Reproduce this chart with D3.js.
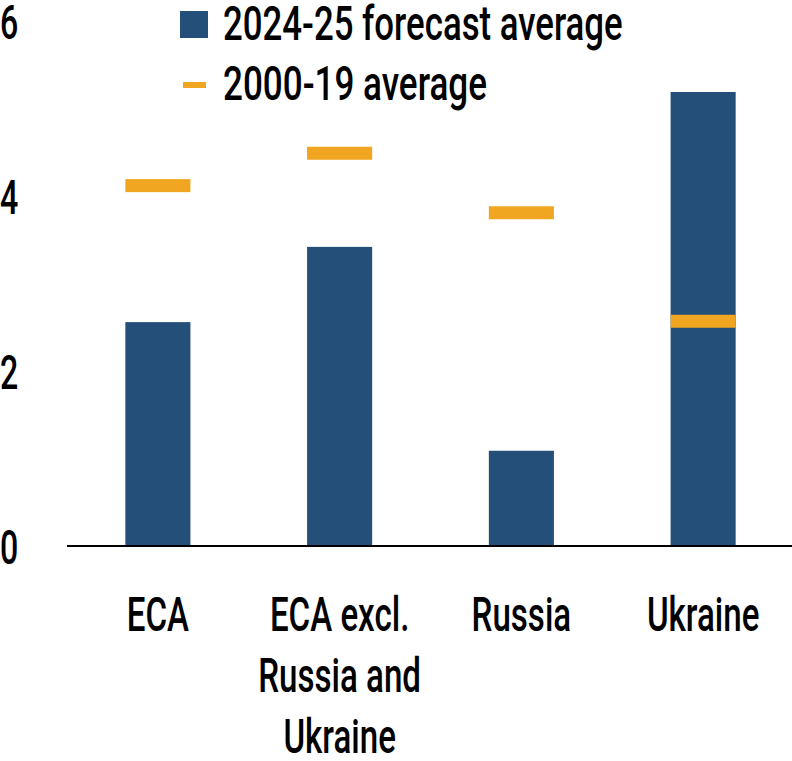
<!DOCTYPE html>
<html lang="en">
<head>
    <meta charset="UTF-8">
    <title></title>
    <script src="https://cdn.jsdelivr.net/npm/d3@7/dist/d3.min.js"></script>
    <style>
        body { margin: 0; background: #fff; }
        text { font-family: Roboto, sans-serif; font-weight: 500; fill: #000; }
    </style>
</head>
<body>
    <div id='root'></div>
    <script>
        // values
        const categories = ['ECA', 'ECA excl. Russia and Ukraine', 'Russia', 'Ukraine'];
        const categoryLines = [['ECA'], ['ECA excl.', 'Russia and', 'Ukraine'], ['Russia'], ['Ukraine']];
        const forecast = [2.57, 3.43, 1.10, 5.20];   // 2024-25 forecast average
        const hist = [4.13, 4.50, 3.82, 2.58];       // 2000-19 average
        const yTicks = [0, 2, 4, 6];
        const legendLabels = ['2024-25 forecast average', '2000-19 average'];

        const W = 792, H = 761;
        const blue = '#244f78', orange = '#f0a620';
        const fontSize = 48;

        const svg = d3.select('#root').append('svg')
            .attr('width', W).attr('height', H);

        const x = d3.scaleBand()
            .domain(categories)
            .range([67, 794])
            .paddingInner(0.642)
            .paddingOuter(0.321);

        const y = d3.scaleLinear()
            .domain([0, 6])
            .range([547, 22]);

        // condensed-looking text: squeeze horizontally
        function label(px, py, str, anchor, sx) {
            svg.append('g')
                .attr('transform', `translate(${px},${py}) scale(${sx || 0.67},1)`)
                .append('text')
                .attr('text-anchor', anchor || 'start')
                .attr('font-size', fontSize)
                .text(str);
        }

        // y tick labels
        yTicks.forEach(t => label(0, y(t) + 16.5, t));

        // bars
        svg.selectAll('rect.bar')
            .data(forecast)
            .enter().append('rect')
            .attr('class', 'bar')
            .attr('x', (d, i) => x(categories[i]))
            .attr('y', d => y(d))
            .attr('width', x.bandwidth())
            .attr('height', d => y(0) - y(d))
            .attr('fill', blue);

        // 2000-19 markers
        svg.selectAll('rect.hist')
            .data(hist)
            .enter().append('rect')
            .attr('class', 'hist')
            .attr('x', (d, i) => x(categories[i]))
            .attr('y', d => y(d) - 6.5)
            .attr('width', x.bandwidth())
            .attr('height', 13)
            .attr('fill', orange);

        // baseline
        svg.append('line')
            .attr('x1', 67).attr('x2', W)
            .attr('y1', y(0) - 1).attr('y2', y(0) - 1)
            .attr('stroke', '#000').attr('stroke-width', 2);

        // category labels
        categoryLines.forEach((lines, i) => {
            const cx = x(categories[i]) + x.bandwidth() / 2;
            lines.forEach((ln, j) => label(cx, 631 + j * 61, ln, 'middle', 0.69));
        });

        // legend
        svg.append('rect')
            .attr('x', 180).attr('y', 11)
            .attr('width', 28).attr('height', 27)
            .attr('fill', blue);
        svg.append('rect')
            .attr('x', 183).attr('y', 82)
            .attr('width', 23).attr('height', 6)
            .attr('fill', orange);
        label(223, 40, legendLabels[0], 'start', 0.725);
        label(223, 100, legendLabels[1], 'start', 0.73);
    </script>
</body>
</html>
